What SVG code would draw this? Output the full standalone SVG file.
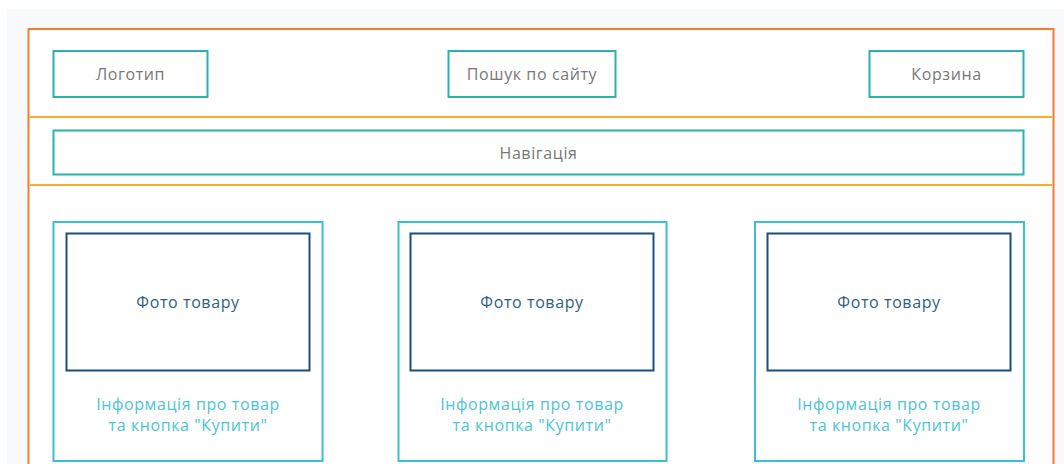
<svg xmlns="http://www.w3.org/2000/svg" width="1064" height="464" viewBox="0 0 1064 464">
  <style>
    .frame { fill: #ffffff; stroke: #f57c2e; stroke-width: 2; }
    .divider { stroke: #f6ad2e; stroke-width: 2; }
    .block { fill: #ffffff; stroke: #2bb2ac; stroke-width: 2; }
    .card { fill: #ffffff; stroke: #3dbfd3; stroke-width: 2; }
    .photo { fill: #ffffff; stroke: #1b4f7b; stroke-width: 2; }
    text { font-family: "Open Sans", "Noto Sans", sans-serif; font-size: 16px; letter-spacing: 0.6px; text-anchor: middle; }
    .lbl { fill: #777777; }
    .photo-lbl { fill: #2e5e85; }
    .info { fill: #4cc4d6; }
  </style>

  <!-- page backdrop -->
  <rect x="7" y="9" width="1057" height="455" fill="#f8f9fb"/>

  <!-- page frame -->
  <rect class="frame" x="28.5" y="29" width="1025" height="445"/>

  <!-- section dividers -->
  <g id="connectors">
    <line class="divider" x1="29.5" y1="117" x2="1052.5" y2="117"/>
    <line class="divider" x1="29.5" y1="185" x2="1052.5" y2="185"/>
  </g>

  <!-- header -->
  <g id="logo">
    <rect class="block" x="53.5" y="51" width="154" height="46"/>
    <text class="lbl" x="130.5" y="79.5">Логотип</text>
  </g>
  <g id="search">
    <rect class="block" x="448.5" y="51" width="167" height="46"/>
    <text class="lbl" x="532" y="79.5">Пошук по сайту</text>
  </g>
  <g id="cart">
    <rect class="block" x="869.5" y="51" width="154" height="46"/>
    <text class="lbl" x="946.5" y="79.5">Корзина</text>
  </g>

  <!-- navigation bar -->
  <g id="nav">
    <rect class="block" x="53.5" y="130.5" width="970" height="44"/>
    <text class="lbl" x="538.5" y="158.5">Навігація</text>
  </g>

  <!-- product cards -->
  <g id="product-1">
    <rect class="card" x="53.5" y="222" width="269" height="239"/>
    <rect class="photo" x="66.5" y="233.5" width="243" height="137"/>
    <text class="photo-lbl" x="188" y="307.5">Фото товару</text>
    <text class="info" x="188" y="409.5">Інформація про товар</text>
    <text class="info" x="188" y="430.5">та кнопка "Купити"</text>
  </g>
  <g id="product-2">
    <rect class="card" x="398.5" y="222" width="268" height="239"/>
    <rect class="photo" x="410.5" y="233.5" width="243" height="137"/>
    <text class="photo-lbl" x="532" y="307.5">Фото товару</text>
    <text class="info" x="532" y="409.5">Інформація про товар</text>
    <text class="info" x="532" y="430.5">та кнопка "Купити"</text>
  </g>
  <g id="product-3">
    <rect class="card" x="755" y="222" width="269" height="239"/>
    <rect class="photo" x="767.5" y="233.5" width="243" height="137"/>
    <text class="photo-lbl" x="889" y="307.5">Фото товару</text>
    <text class="info" x="889" y="409.5">Інформація про товар</text>
    <text class="info" x="889" y="430.5">та кнопка "Купити"</text>
  </g>
</svg>
